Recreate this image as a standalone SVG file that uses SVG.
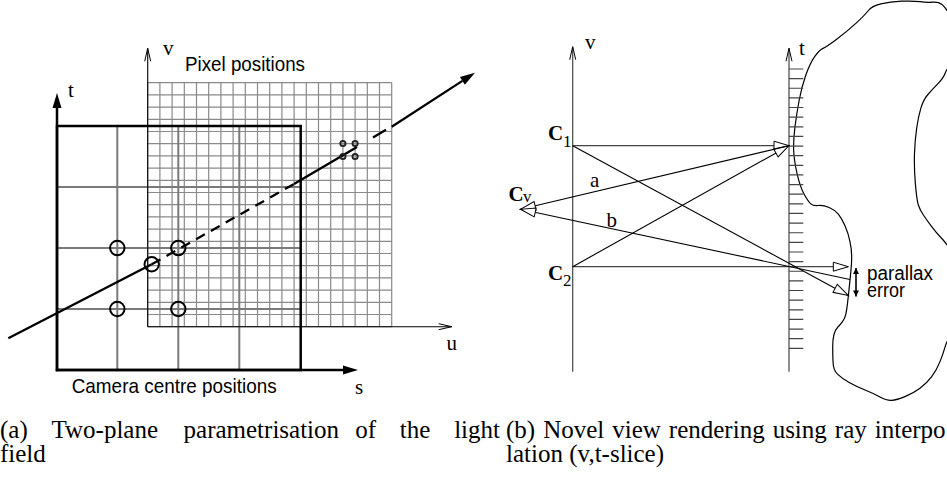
<svg xmlns="http://www.w3.org/2000/svg" width="947" height="483" viewBox="0 0 947 483">
<style>
.serif{font-family:"Liberation Serif","Times New Roman",serif;fill:#000}
.sans{font-family:"Liberation Sans",Arial,sans-serif;fill:#000}
.thin{fill:none;stroke:#000;stroke-width:1.1}
.grey{fill:none;stroke:#444;stroke-width:1.2}
.thick{fill:none;stroke:#000;stroke-width:2.5}
.ray{fill:none;stroke:#000;stroke-width:2.3}
.pix{fill:none;stroke:#8a8a8a;stroke-width:1.2}
.cam{fill:none;stroke:#7a7a7a;stroke-width:2}
.ring{fill:none;stroke:#000;stroke-width:2}
.dot{fill:none;stroke:#222;stroke-width:1.9}
</style>
<defs>
<marker id="ahF" markerUnits="userSpaceOnUse" markerWidth="16" markerHeight="10" refX="0" refY="4.5" orient="auto" overflow="visible"><path d="M0,0 L15,4.5 L0,9 Z" fill="#000"/></marker>
<marker id="ahV" markerUnits="userSpaceOnUse" markerWidth="14" markerHeight="8" refX="13" refY="3" orient="auto" overflow="visible"><path d="M0,0 L13,3 L0,6" fill="none" stroke="#000" stroke-width="1"/></marker>
<marker id="ahO" markerUnits="userSpaceOnUse" markerWidth="16" markerHeight="10" refX="15" refY="4.5" orient="auto" overflow="visible"><path d="M0,0 L15,4.5 L0,9 Z" fill="#fff" stroke="#000" stroke-width="1"/></marker>
<marker id="ahS" markerUnits="userSpaceOnUse" markerWidth="7" markerHeight="7" refX="6" refY="3" orient="auto-start-reverse" overflow="visible"><path d="M0,0 L6,3 L0,6 Z" fill="#000"/></marker>
</defs>
<rect width="947" height="483" fill="#fff"/>

<!-- ===== (a) two-plane parametrisation ===== -->
<g id="pixel-grid">
<path class="pix" d="M147.7,82.7V326.7M159.9,82.7V326.7M172.1,82.7V326.7M184.3,82.7V326.7M196.5,82.7V326.7M208.7,82.7V326.7M220.9,82.7V326.7M233.1,82.7V326.7M245.3,82.7V326.7M257.5,82.7V326.7M269.7,82.7V326.7M281.9,82.7V326.7M294.1,82.7V326.7M306.3,82.7V326.7M318.5,82.7V326.7M330.7,82.7V326.7M342.9,82.7V326.7M355.1,82.7V326.7M367.3,82.7V326.7M379.5,82.7V326.7M391.7,82.7V326.7
M147.7,82.7H391.7M147.7,94.9H391.7M147.7,107.1H391.7M147.7,119.3H391.7M147.7,131.5H391.7M147.7,143.7H391.7M147.7,155.9H391.7M147.7,168.1H391.7M147.7,180.3H391.7M147.7,192.5H391.7M147.7,204.7H391.7M147.7,216.9H391.7M147.7,229.1H391.7M147.7,241.3H391.7M147.7,253.5H391.7M147.7,265.7H391.7M147.7,277.9H391.7M147.7,290.1H391.7M147.7,302.3H391.7M147.7,314.5H391.7M147.7,326.7H391.7"/>
</g>
<g id="camera-grid">
<path class="cam" d="M117.3,126V370M178.3,126V370M239.3,126V370M57,187H300.7M57,248H300.7M57,309H300.7"/>
<rect class="thick" x="57" y="126" width="243.7" height="244"/>
</g>
<g id="axes-a">
<path class="thick" d="M57,371.2V108" marker-end="url(#ahF)"/>
<path class="thick" d="M55.8,370H343" marker-end="url(#ahF)"/>
<path class="thin" d="M147.7,326.7V48.3" marker-end="url(#ahV)"/>
<path class="thin" d="M147.7,326.7H451.7" marker-end="url(#ahV)"/>
<text class="serif" x="163" y="55" font-size="21">v</text>
<text class="serif" x="68" y="96.7" font-size="21">t</text>
<text class="serif" x="446.5" y="350" font-size="21">u</text>
<text class="serif" x="355" y="394" font-size="21">s</text>
<text class="sans" x="185" y="70.5" font-size="20.5" textLength="120" lengthAdjust="spacingAndGlyphs">Pixel positions</text>
<text class="sans" x="71.7" y="393.3" font-size="21" textLength="205" lengthAdjust="spacingAndGlyphs">Camera centre positions</text>
</g>
<g id="ray-a">
<path class="ray" d="M8.3,338.3L151.7,264.3"/>
<path class="ray" d="M151.7,264.3L294,184" stroke-dasharray="10 7"/>
<path class="ray" d="M294,184L357,146.9M373,137.4L386,129.7"/>
<path class="ray" d="M391.7,126.7L462.4,80.9" marker-end="url(#ahF)"/>
</g>
<g id="camera-samples">
<circle class="ring" cx="117.3" cy="248" r="7.2"/>
<circle class="ring" cx="178.3" cy="248" r="7.2"/>
<circle class="ring" cx="117.3" cy="309" r="7.2"/>
<circle class="ring" cx="178.3" cy="309" r="7.2"/>
<circle class="ring" cx="151.7" cy="264.3" r="7.2"/>
</g>
<g id="pixel-samples">
<circle class="dot" cx="342.9" cy="143.5" r="2.6"/>
<circle class="dot" cx="355.1" cy="143.5" r="2.6"/>
<circle class="dot" cx="342.9" cy="156.5" r="2.6"/>
<circle class="dot" cx="355.1" cy="156.5" r="2.6"/>
</g>

<!-- ===== (b) novel view rendering ===== -->
<g id="object">
<path fill="none" stroke="#000" stroke-width="1.2" d="M823,48.35 Q826.7,46.7 836.7,39.2 Q846.7,31.7 855.85,23.35 Q865,15 868.35,10.5 Q871.7,6 880.85,3.85 Q890,1.7 901.65,1.2 Q913.3,0.7 920,1.7 Q926.7,2.7 932.5,2.2 Q938.3,1.7 941.65,4.2 Q945,6.7 950.5,15.85 Q956,25 956,41.5 Q956,58 951.5,63.15 Q947,68.3 945.15,73.3 Q943.3,78.3 937.5,84.15 Q931.7,90 927.5,95 Q923.3,100 920.8,108.35 Q918.3,116.7 916.65,128.35 Q915,140 914.5,153.35 Q914,166.7 915.35,183.35 Q916.7,200 918.35,205 Q920,210 923.35,215 Q926.7,220 931.7,226.65 Q936.7,233.3 940.85,237.5 Q945,241.7 953.5,253.35 Q962,265 962,292.5 Q962,320 954.5,330 Q947,340 945.15,346.65 Q943.3,353.3 940,361.65 Q936.7,370 931.7,376.65 Q926.7,383.3 920,388.3 Q913.3,393.3 905,396.65 Q896.7,400 891.7,400.35 Q886.7,400.7 880,397 Q873.3,393.3 865,390 Q856.7,386.7 849.2,382.5 Q841.7,378.3 837.5,374.15 Q833.3,370 833,361.65 Q832.7,353.3 832.7,346.65 Q832.7,340 833.85,335 Q835,330 837.5,327.5 Q840,325 842.5,321.65 Q845,318.3 845.85,314.15 Q846.7,310 847.5,303.35 Q848.3,296.7 849.15,288.35 Q850,280 850.85,271.65 Q851.7,263.3 851.7,256.65 Q851.7,250 850,241.65 Q848.3,233.3 845,225.8 Q841.7,218.3 838.35,214.15 Q835,210 829.15,207.5 Q823.3,205 818.3,205.5 Q813.3,206 810.8,203.85 Q808.3,201.7 804.15,194.2 Q800,186.7 797,173.35 Q794,160 793.65,150 Q793.3,140 795,126.65 Q796.7,113.3 799.2,100 Q801.7,86.7 805.85,75 Q810,63.3 814.65,56.65 Q819.3,50 823,48.35 Z"/>
</g>
<g id="v-axis">
<path class="grey" d="M572.7,371.7V46.7" marker-end="url(#ahV)"/>
<text class="serif" x="585" y="48.5" font-size="21">v</text>
</g>
<g id="t-axis">
<path class="grey" d="M789,371.7V48.3" marker-end="url(#ahV)"/>
<path class="grey" d="M789,69H803.3M789,78.63H803.3M789,88.26H803.3M789,97.89H803.3M789,107.52H803.3M789,117.16H803.3M789,126.79H803.3M789,136.42H803.3M789,146.05H803.3M789,155.68H803.3M789,165.31H803.3M789,174.94H803.3M789,184.57H803.3M789,194.2H803.3M789,203.83H803.3M789,213.47H803.3M789,223.1H803.3M789,232.73H803.3M789,242.36H803.3M789,251.99H803.3M789,261.62H803.3M789,271.25H803.3M789,280.88H803.3M789,290.51H803.3M789,300.14H803.3M789,309.78H803.3M789,319.41H803.3M789,329.04H803.3M789,338.67H803.3M789,348.3H803.3"/>
<text class="serif" x="799" y="55" font-size="21">t</text>
</g>
<g id="C1">
<text class="serif" x="548" y="140" font-size="21" font-weight="bold">C</text>
<text class="serif" x="563" y="146.7" font-size="17">1</text>
</g>
<g id="C2">
<text class="serif" x="548" y="280" font-size="21" font-weight="bold">C</text>
<text class="serif" x="563" y="285.5" font-size="17">2</text>
</g>
<g id="Cv">
<text class="serif" x="508.5" y="201" font-size="21" font-weight="bold">C</text>
<text class="serif" x="523" y="202" font-size="17">v</text>
</g>
<g id="connectors">
<path class="grey" d="M572.7,145.7H789" marker-end="url(#ahO)"/>
<path class="grey" d="M572.7,266.7H848.3" marker-end="url(#ahO)"/>
<path class="thin" d="M572.7,266.7L789,145.7" marker-end="url(#ahO)"/>
<path class="thin" d="M572.7,145.7L848.3,295.5" marker-end="url(#ahO)"/>
<path class="thin" d="M789,145.7L520.5,209.3" marker-end="url(#ahO)"/>
<path class="thin" d="M850,279.5L520.5,209.3" marker-end="url(#ahO)"/>
<text class="serif" x="590" y="186.7" font-size="21">a</text>
<text class="serif" x="606.5" y="226.7" font-size="21">b</text>
</g>
<g id="parallax-error">
<path fill="none" stroke="#000" stroke-width="1.6" d="M856,268V296.5" marker-start="url(#ahS)" marker-end="url(#ahS)"/>
<text class="sans" x="867" y="280" font-size="20" textLength="66" lengthAdjust="spacingAndGlyphs">parallax</text>
<text class="sans" x="867" y="296.5" font-size="20" textLength="38" lengthAdjust="spacingAndGlyphs">error</text>
</g>

<!-- ===== captions ===== -->
<g id="caption-a" class="serif" font-size="25">
<text x="0" y="438">(a)</text>
<text x="51.5" y="438">Two-plane</text>
<text x="183.55" y="438">parametrisation</text>
<text x="355.3" y="438">of</text>
<text x="399.85" y="438">the</text>
<text x="454.15" y="438">light</text>
<text x="0" y="462">field</text>
</g>
<g id="caption-b" class="serif" font-size="25">
<text x="506" y="438">(b)</text>
<text x="543.15" y="438">Novel</text>
<text x="612.25" y="438">view</text>
<text x="668.85" y="438">rendering</text>
<text x="772.65" y="438">using</text>
<text x="834.85" y="438">ray</text>
<text x="874.75" y="438">interpo</text>
<text x="506" y="462">lation (v,t-slice)</text>
</g>
</svg>
